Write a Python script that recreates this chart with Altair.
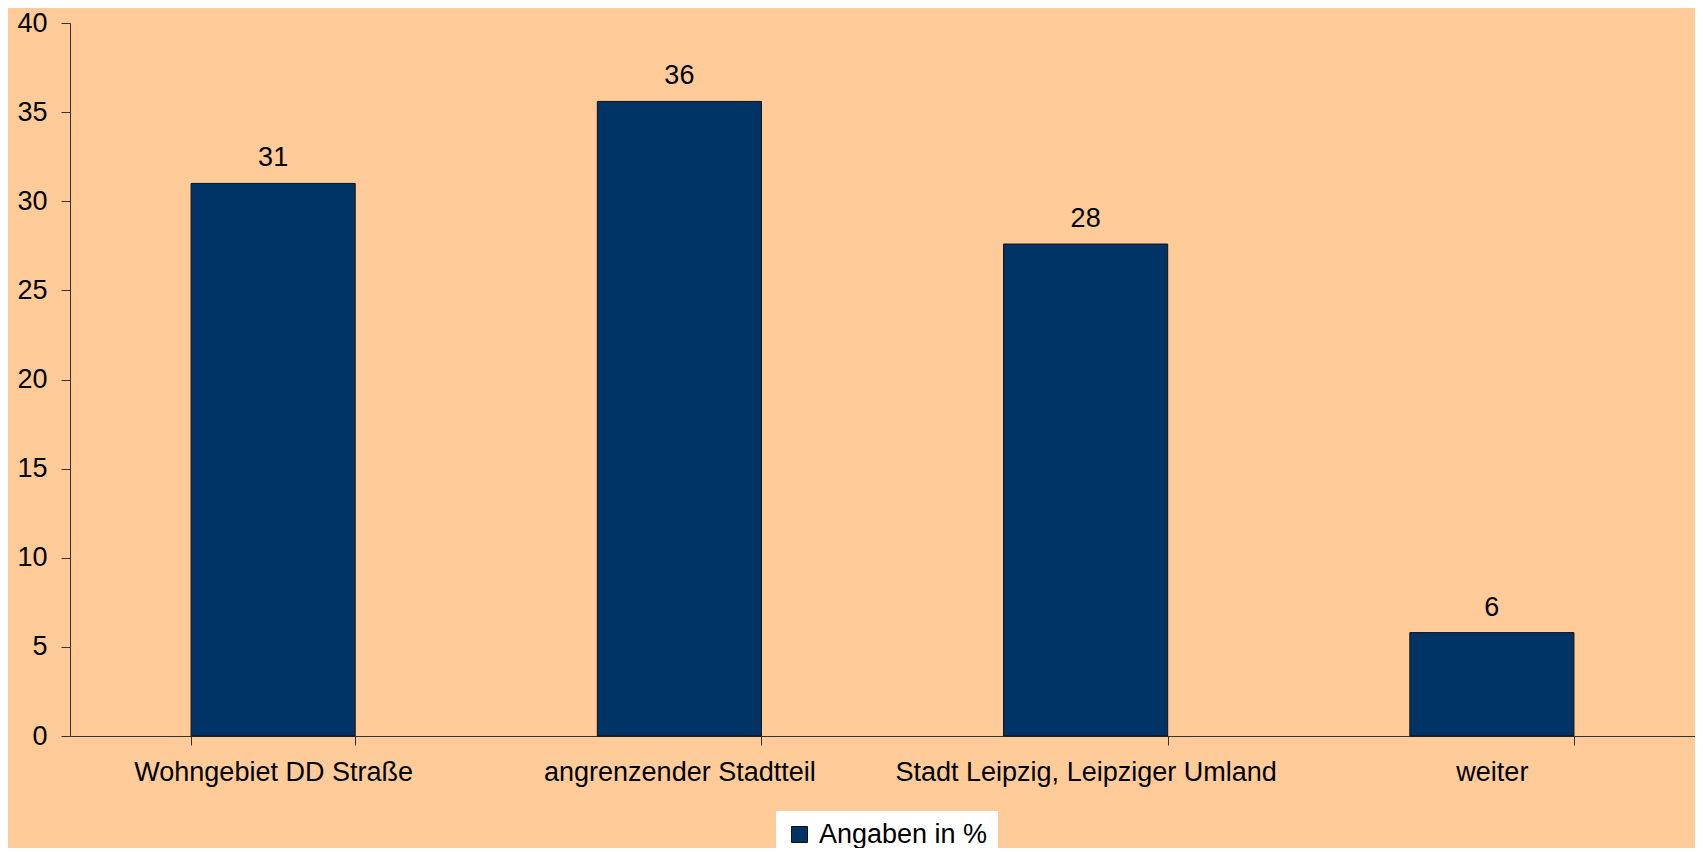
import altair as alt
import pandas as pd

categories = ["Wohngebiet DD Straße", "angrenzender Stadtteil", "Stadt Leipzig, Leipziger Umland", "weiter"]
values = [31.0, 35.6, 27.6, 5.8]
value_labels = ["31", "36", "28", "6"]
series_name = "Angaben in %"

df = pd.DataFrame({
    "cat": categories,
    "val": values,
    "lbl": value_labels,
    "series": [series_name] * len(categories),
})

FONT = "Liberation Sans"
FS = 27

x_enc = alt.X(
    "cat:N",
    sort=None,
    title=None,
    scale=alt.Scale(paddingInner=0.596, paddingOuter=0.298),
    axis=alt.Axis(
        labelAngle=0,
        labelFontSize=FS,
        labelFont=FONT,
        labelColor="black",
        labelPadding=14,
        tickBand="extent",
        tickSize=9,
        tickColor="#333333",
        domainColor="#333333",
        labelLimit=600,
        grid=False,
    ),
)

bars = alt.Chart(df).mark_bar(stroke="#111111", strokeWidth=1).encode(
    x=x_enc,
    y=alt.Y(
        "val:Q",
        title=None,
        scale=alt.Scale(domain=[0, 40], nice=False),
        axis=alt.Axis(
            values=[0, 5, 10, 15, 20, 25, 30, 35, 40],
            labelFontSize=FS,
            labelFont=FONT,
            labelColor="black",
            labelPadding=14,
            tickSize=9,
            tickColor="#333333",
            domainColor="#333333",
            grid=False,
        ),
    ),
    color=alt.Color(
        "series:N",
        scale=alt.Scale(domain=[series_name], range=["#003366"]),
        legend=alt.Legend(
            title=None,
            orient="none",
            legendX=706,
            legendY=788,
            fillColor="white",
            padding=10,
            symbolType="square",
            symbolSize=256,
            symbolStrokeColor="#111111",
            symbolStrokeWidth=1,
            labelFontSize=FS,
            labelFont=FONT,
            labelColor="black",
            labelOffset=6,
            labelLimit=500,
        ),
    ),
)

texts = alt.Chart(df).mark_text(
    dy=-17, baseline="alphabetic", fontSize=FS, font=FONT, color="black"
).encode(
    x=alt.X("cat:N", sort=None),
    y="val:Q",
    text="lbl:N",
)

chart = (
    alt.layer(bars, texts)
    .properties(
        width=1625,
        height=713,
        background="#FFCC99",
        autosize="none",
        padding={"left": 62, "top": 15, "right": 0, "bottom": 112},
    )
    .configure_view(stroke=None)
)

chart.save("out.html", embed_options={"renderer": "svg", "actions": False})
